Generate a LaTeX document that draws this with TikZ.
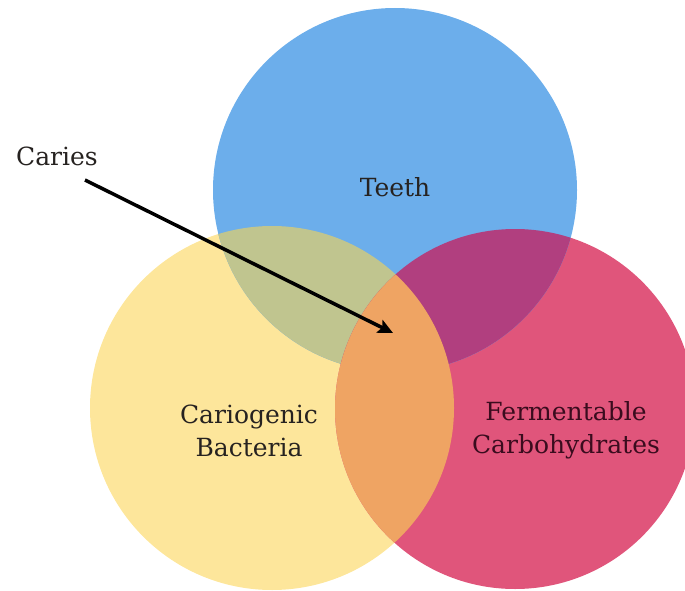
\documentclass[tikz,border=0pt]{standalone}
\usepackage{fontspec}
\setmainfont{DejaVu Serif}
\usetikzlibrary{arrows.meta}
\definecolor{cblue}{HTML}{6CAEEB}
\definecolor{cyellow}{HTML}{FDE69B}
\definecolor{cred}{HTML}{E0557B}
\definecolor{cgreen}{HTML}{C0C58F}
\definecolor{cpurple}{HTML}{B13F7F}
\definecolor{corange}{HTML}{EFA463}
\definecolor{ctext}{HTML}{262220}
\definecolor{credtext}{HTML}{3A0C1E}
\begin{document}
\begin{tikzpicture}[x=1pt,y=-1pt,
  lbl/.style={font=\fontsize{25}{33}\selectfont, text=ctext, align=center, inner sep=0pt},
  arr/.style={line width=3.5pt, -{Stealth[length=15pt,width=14pt,inset=3pt]}}]
\useasboundingbox (0,0) rectangle (685,591);
\def\bluepath{(395,190) circle[radius=182]}
\def\yellowpath{(272,408) circle[radius=182]}
\def\redpath{(515,409) circle[radius=180]}
\begin{scope}
\clip (0,0) rectangle (685,591);
\fill[cyellow] \yellowpath;
\fill[cred] \redpath;
\fill[cblue] \bluepath;
\begin{scope}
\clip \bluepath;
\fill[cgreen] \yellowpath;
\fill[cpurple] \redpath;
\end{scope}
\begin{scope}
\clip \yellowpath;
\fill[corange] \redpath;
\end{scope}
\end{scope}
\node[lbl] (teeth) at (395,187) {Teeth};
\node[lbl] (caries) at (57,156) {Caries};
\node[lbl] (bact) at (249,431) {Cariogenic\\Bacteria};
\node[lbl, text=credtext] (carb) at (566,430) {Fermentable\\Carbohydrates};
\coordinate (a0) at (85,180);
\coordinate (a1) at (393,333);
\draw[arr] (a0) -- (a1);
\end{tikzpicture}
\end{document}
